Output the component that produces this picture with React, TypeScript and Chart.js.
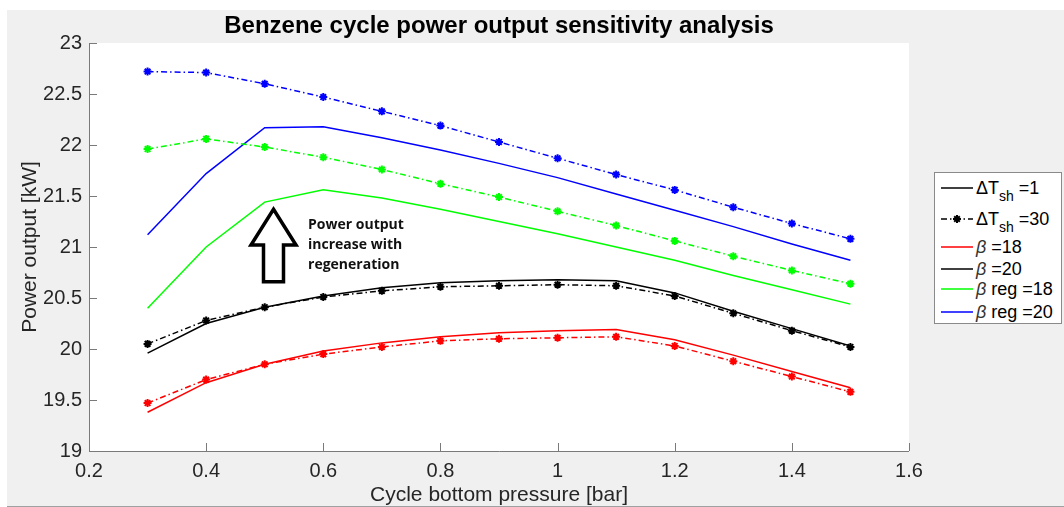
import React, { useEffect, useRef } from 'react';
import { Chart, registerables } from 'chart.js';

Chart.register(...registerables);

// ---------- data ----------
const pressure = [0.3, 0.4, 0.5, 0.6, 0.7, 0.8, 0.9, 1.0, 1.1, 1.2, 1.3, 1.4, 1.5];

const beta18dT1 = [19.38, 19.67, 19.85, 19.98, 20.06, 20.12, 20.16, 20.18, 20.19, 20.09, 19.94, 19.78, 19.62];
const beta18dT30 = [19.47, 19.70, 19.85, 19.95, 20.02, 20.08, 20.10, 20.11, 20.12, 20.03, 19.88, 19.73, 19.58];
const beta20dT1 = [19.96, 20.25, 20.41, 20.52, 20.60, 20.65, 20.67, 20.68, 20.67, 20.55, 20.37, 20.20, 20.03];
const beta20dT30 = [20.05, 20.28, 20.41, 20.51, 20.57, 20.61, 20.62, 20.63, 20.62, 20.52, 20.35, 20.18, 20.02];
const reg18dT1 = [20.40, 21.00, 21.44, 21.56, 21.48, 21.37, 21.25, 21.13, 21.00, 20.87, 20.72, 20.58, 20.44];
const reg18dT30 = [21.96, 22.06, 21.98, 21.88, 21.76, 21.62, 21.49, 21.35, 21.21, 21.06, 20.91, 20.77, 20.64];
const reg20dT1 = [21.12, 21.72, 22.17, 22.18, 22.07, 21.95, 21.82, 21.68, 21.52, 21.36, 21.20, 21.03, 20.87];
const reg20dT30 = [22.72, 22.71, 22.60, 22.47, 22.33, 22.19, 22.03, 21.87, 21.71, 21.56, 21.39, 21.23, 21.08];

const xTicks = [0.2, 0.4, 0.6, 0.8, 1.0, 1.2, 1.4, 1.6];
const xTickLabels = ['0.2', '0.4', '0.6', '0.8', '1', '1.2', '1.4', '1.6'];
const yTicks = [19, 19.5, 20, 20.5, 21, 21.5, 22, 22.5, 23];
const yTickLabels = ['19', '19.5', '20', '20.5', '21', '21.5', '22', '22.5', '23'];

const titleText = 'Benzene cycle power output sensitivity analysis';
const xTitle = 'Cycle bottom pressure [bar]';
const yTitle = 'Power output [kW]';

// annotation (data coordinates)
const annotationLines = ['Power output', 'increase with', 'regeneration'];
const annotationX = 0.574;
const annotationYs = [21.22, 21.02, 20.82];
const arrowX = 0.515;
const arrowTipY = 21.37;
const arrowHeadBaseY = 21.02;
const arrowBottomY = 20.66;

// ---------- styles ----------
const FONT = '"Liberation Sans", Arial, Helvetica, sans-serif';
const BLUE = '#0000ff';
const GREEN = '#00ff00';
const RED = '#ff0000';
const BLACK = '#000000';
const DASHDOT = [6, 3, 1.5, 3];

function series(label: string, values: number[], color: string, dashed: boolean) {
  return {
    label,
    data: pressure.map((x, i) => ({ x, y: values[i] })),
    borderColor: color,
    backgroundColor: color,
    borderWidth: 1.5,
    borderDash: dashed ? DASHDOT : [],
    pointRadius: dashed ? 4 : 0,
    pointHoverRadius: dashed ? 4 : 0,
    pointStyle: 'star',
    pointBorderColor: color,
    pointBackgroundColor: color,
    pointBorderWidth: 2,
    tension: 0,
    fill: false,
  };
}

const figurePlugin = {
  id: 'figure',
  beforeDraw(chart: any) {
    const { ctx, chartArea: a, width, height } = chart;
    ctx.save();
    ctx.fillStyle = '#ffffff';
    ctx.fillRect(0, 0, width, height);
    ctx.fillStyle = '#f0f0f0';
    ctx.fillRect(7, 10, width - 7, height - 11);
    ctx.fillStyle = '#a0a0a0';
    ctx.fillRect(7, height - 1, width - 7, 1);
    ctx.fillStyle = '#ffffff';
    ctx.fillRect(a.left, a.top, a.right - a.left, a.bottom - a.top);
    // title
    ctx.fillStyle = '#000000';
    ctx.font = `bold 24px ${FONT}`;
    ctx.textAlign = 'center';
    ctx.textBaseline = 'middle';
    ctx.fillText(titleText, (a.left + a.right) / 2, 26);
    // axis titles
    ctx.fillStyle = '#262626';
    ctx.font = `21px ${FONT}`;
    ctx.fillText(xTitle, (a.left + a.right) / 2, 495);
    ctx.translate(30, (a.top + a.bottom) / 2);
    ctx.rotate(-Math.PI / 2);
    ctx.fillText(yTitle, 0, 0);
    ctx.restore();
  },
  afterDraw(chart: any) {
    const { ctx, chartArea: a, scales } = chart;
    const xs = scales.x;
    const ys = scales.y;
    ctx.save();
    // axis lines and inner ticks
    ctx.strokeStyle = '#7a7a7a';
    ctx.lineWidth = 1;
    ctx.beginPath();
    ctx.moveTo(a.left + 0.5, a.top);
    ctx.lineTo(a.left + 0.5, a.bottom + 0.5);
    ctx.lineTo(a.right, a.bottom + 0.5);
    xTicks.forEach((v) => {
      const px = Math.round(xs.getPixelForValue(v)) + 0.5;
      ctx.moveTo(px, a.bottom);
      ctx.lineTo(px, a.bottom - 8);
    });
    yTicks.forEach((v) => {
      const py = Math.round(ys.getPixelForValue(v)) + 0.5;
      ctx.moveTo(a.left, py);
      ctx.lineTo(a.left + 8, py);
    });
    ctx.stroke();

    // hollow arrow
    const cx = xs.getPixelForValue(arrowX);
    const tip = ys.getPixelForValue(arrowTipY);
    const hb = ys.getPixelForValue(arrowHeadBaseY);
    const bot = ys.getPixelForValue(arrowBottomY);
    const headHalf = 22.5;
    const shaftHalf = 10;
    ctx.strokeStyle = '#000000';
    ctx.lineWidth = 3.5;
    ctx.lineJoin = 'miter';
    ctx.beginPath();
    ctx.moveTo(cx, tip);
    ctx.lineTo(cx + headHalf, hb);
    ctx.lineTo(cx + shaftHalf, hb);
    ctx.lineTo(cx + shaftHalf, bot);
    ctx.lineTo(cx - shaftHalf, bot);
    ctx.lineTo(cx - shaftHalf, hb);
    ctx.lineTo(cx - headHalf, hb);
    ctx.closePath();
    ctx.stroke();

    // annotation text
    ctx.fillStyle = '#111111';
    ctx.font = 'bold 14px "Open Sans", "Noto Sans", sans-serif';
    ctx.textAlign = 'left';
    ctx.textBaseline = 'middle';
    const tx = xs.getPixelForValue(annotationX);
    annotationLines.forEach((t, i) => {
      ctx.fillText(t, tx, ys.getPixelForValue(annotationYs[i]));
    });
    ctx.restore();
  },
};

function LegendRow(props: { top: number; color: string; dashed?: boolean; marker?: boolean; children: any }) {
  const { top, color, dashed, marker, children } = props;
  return (
    <div style={{ position: 'absolute', left: 0, top: top - 11, width: 127, height: 22 }}>
      <svg width={34} height={22} style={{ position: 'absolute', left: 5, top: 0 }}>
        <line
          x1={1}
          y1={11}
          x2={33}
          y2={11}
          stroke={color}
          strokeWidth={1.5}
          strokeDasharray={dashed ? '6 3 1.5 3' : undefined}
        />
        {marker ? (
          <g stroke={color} strokeWidth={2}>
            <line x1={17 - 4} y1={11} x2={17 + 4} y2={11} />
            <line x1={17} y1={11 - 4} x2={17} y2={11 + 4} />
            <line x1={17 - 2.8} y1={11 - 2.8} x2={17 + 2.8} y2={11 + 2.8} />
            <line x1={17 - 2.8} y1={11 + 2.8} x2={17 + 2.8} y2={11 - 2.8} />
          </g>
        ) : null}
      </svg>
      <div
        style={{
          position: 'absolute',
          left: 41,
          top: 0,
          height: 22,
          lineHeight: '22px',
          fontFamily: FONT,
          fontSize: 18,
          color: '#000000',
          whiteSpace: 'nowrap',
        }}
      >
        {children}
      </div>
    </div>
  );
}

const subStyle: any = { fontSize: 14, lineHeight: 0, verticalAlign: -7, position: 'relative' };
const betaStyle: any = { fontStyle: 'italic', color: '#333333' };

export default function App() {
  const canvasRef = useRef<HTMLCanvasElement | null>(null);

  useEffect(() => {
    const canvas = canvasRef.current;
    if (!canvas) return;
    const chart = new Chart(canvas, {
      type: 'line',
      data: {
        datasets: [
          series('β =18', beta18dT1, RED, false),
          series('β =18, ΔTsh =30', beta18dT30, RED, true),
          series('β =20', beta20dT1, BLACK, false),
          series('β =20, ΔTsh =30', beta20dT30, BLACK, true),
          series('β reg =18', reg18dT1, GREEN, false),
          series('β reg =18, ΔTsh =30', reg18dT30, GREEN, true),
          series('β reg =20', reg20dT1, BLUE, false),
          series('β reg =20, ΔTsh =30', reg20dT30, BLUE, true),
        ] as any,
      },
      options: {
        animation: false,
        responsive: false,
        devicePixelRatio: 1,
        events: [],
        layout: { padding: { top: 43, right: 155, left: 0, bottom: 0 } },
        plugins: {
          legend: { display: false },
          title: { display: false },
          tooltip: { enabled: false },
        },
        scales: {
          x: {
            type: 'linear',
            min: 0.2,
            max: 1.6,
            afterFit: (s: any) => {
              s.height = 56;
            },
            afterBuildTicks: (s: any) => {
              s.ticks = xTicks.map((value) => ({ value }));
            },
            grid: { display: false, drawTicks: false },
            border: { display: false },
            ticks: {
              padding: 8,
              maxRotation: 0,
              autoSkip: false,
              color: '#262626',
              font: { family: FONT, size: 20 },
              callback: (_v: any, i: number) => xTickLabels[i],
            },
          },
          y: {
            type: 'linear',
            min: 19,
            max: 23,
            afterFit: (s: any) => {
              s.width = 89;
            },
            afterBuildTicks: (s: any) => {
              s.ticks = yTicks.map((value) => ({ value }));
            },
            grid: { display: false, drawTicks: false },
            border: { display: false },
            ticks: {
              padding: 7,
              autoSkip: false,
              color: '#262626',
              font: { family: FONT, size: 20 },
              callback: (_v: any, i: number) => yTickLabels[i],
            },
          },
        },
      } as any,
      plugins: [figurePlugin],
    });
    return () => chart.destroy();
  }, []);

  return (
    <div style={{ position: 'fixed', left: 0, top: 0, width: 1064, height: 507, overflow: 'hidden', background: '#fff' }}>
      <canvas ref={canvasRef} width={1064} height={507} style={{ position: 'absolute', left: 0, top: 0, width: 1064, height: 507 }} />
      <div
        style={{
          position: 'absolute',
          left: 934,
          top: 172,
          width: 126,
          height: 150,
          background: '#ffffff',
          border: '1px solid #8a8a8a',
        }}
      >
        <LegendRow top={15} color={BLACK}>
          ΔT<sub style={subStyle}>sh</sub> =1
        </LegendRow>
        <LegendRow top={46} color={BLACK} dashed marker>
          ΔT<sub style={subStyle}>sh</sub> =30
        </LegendRow>
        <LegendRow top={74} color={RED}>
          <span style={betaStyle}>β</span> =18
        </LegendRow>
        <LegendRow top={96} color={BLACK}>
          <span style={betaStyle}>β</span> =20
        </LegendRow>
        <LegendRow top={116} color={GREEN}>
          <span style={betaStyle}>β</span> reg =18
        </LegendRow>
        <LegendRow top={139} color={BLUE}>
          <span style={betaStyle}>β</span> reg =20
        </LegendRow>
      </div>
    </div>
  );
}
